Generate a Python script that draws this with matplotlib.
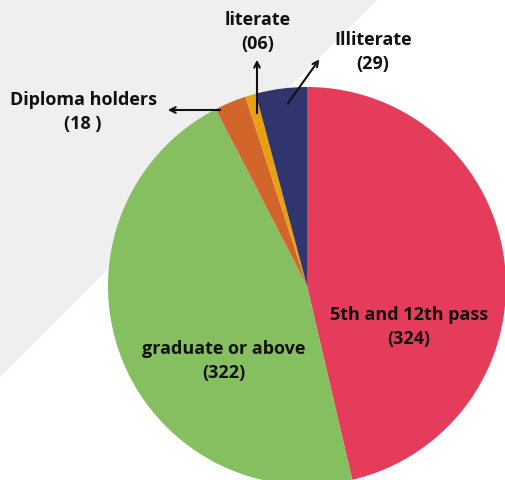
import matplotlib.pyplot as plt
from matplotlib.patches import Polygon

labels = ['5th and 12th pass', 'graduate or above', 'Diploma holders', 'literate', 'Illiterate']
value_text = ['(324)', '(322)', '(18 )', '(06)', '(29)']
values = [324, 322, 18, 6, 29]
colors = ['#e63c5c', '#86bf60', '#d2662a', '#e8a010', '#30356e']

W, H = 505, 481
fig = plt.figure(figsize=(W / 100, H / 100), dpi=100)
ax = fig.add_axes([0, 0, 1, 1])

# grey triangle in the background (top-left)
ax.add_patch(Polygon([(0, H), (378, H), (0, H - 378)], closed=True,
                     facecolor='#efefef', edgecolor='none', zorder=0))

cx, cy, r = 307, H - 287, 199
ax.pie(values, colors=colors, startangle=90, counterclock=False,
       center=(cx, cy), radius=r, frame=True,
       wedgeprops=dict(linewidth=0))
ax.set_xlim(0, W)
ax.set_ylim(0, H)
ax.set_aspect('equal')
ax.axis('off')

font = dict(family='Open Sans', fontweight='bold', fontsize=13, color='#111111',
            ha='center', va='center', linespacing=1.4)

# label positions in pixel coords (x, y from top)
pos = [(409, 327), (224, 361), (83, 112), (258, 32), (373, 52)]
for lab, vt, (x, y) in zip(labels, value_text, pos):
    ax.text(x, H - y, lab + '\n' + vt, **font)

# arrows for the small slices
arrows = [((223, 111), (165, 111)), ((257, 117), (257, 58)), ((286, 107), (321, 58))]
for (x0, y0), (x1, y1) in arrows:
    ax.annotate('', xy=(x1, H - y1), xytext=(x0, H - y0),
                arrowprops=dict(arrowstyle='->', color='#111111', lw=1.5))

fig.savefig('out.png', dpi=100)
